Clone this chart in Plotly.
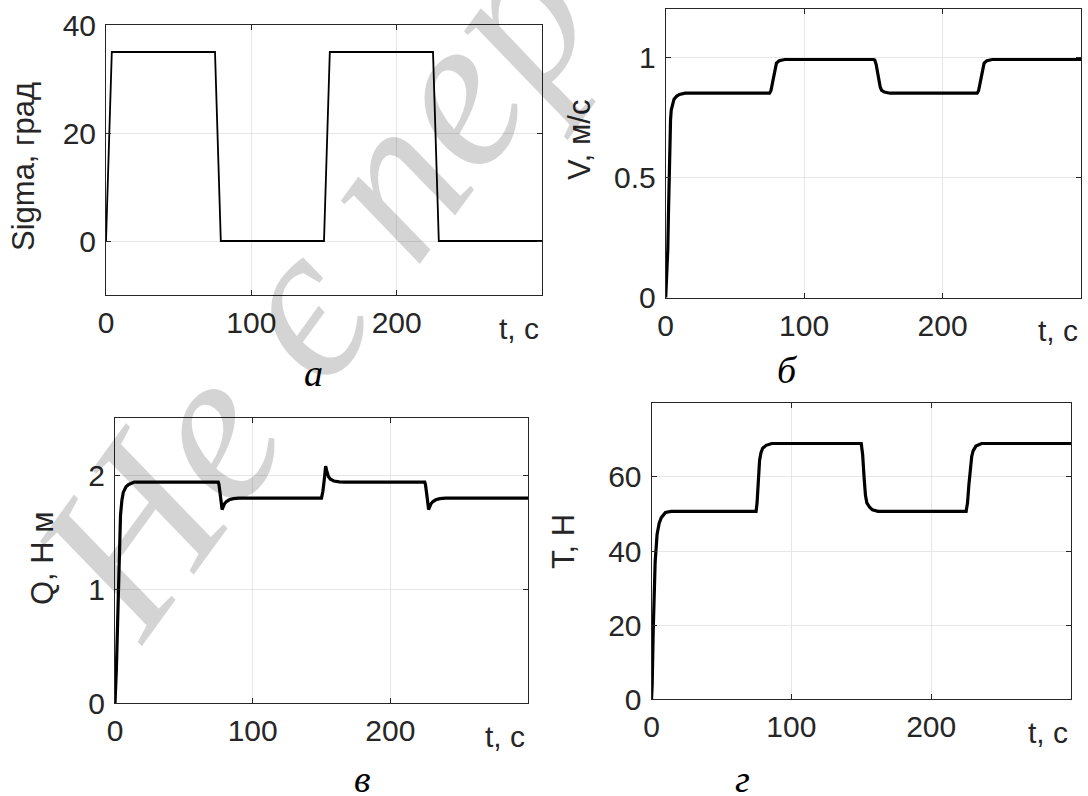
import plotly.graph_objects as go

# ---------------- data ----------------
t_sigma = [0, 4, 75, 79, 150, 154, 225, 229, 300]
sigma = [0, 35, 35, 0, 0, 35, 35, 0, 0]

t_v = [0, 1, 1.5, 2, 2.5, 3, 3.5, 4, 5, 6, 8, 10, 14,
       75, 76, 77, 78, 79, 80, 82, 86,
       150, 151, 152, 153, 154, 155, 156, 158, 162,
       225, 226, 227, 228, 229, 230, 232, 236, 300]
v = [0, 0.10, 0.20, 0.35, 0.50, 0.66, 0.74, 0.78, 0.81, 0.825, 0.838, 0.845, 0.85,
     0.85, 0.86, 0.89, 0.93, 0.96, 0.975, 0.985, 0.99,
     0.99, 0.988, 0.97, 0.94, 0.90, 0.875, 0.862, 0.855, 0.85,
     0.85, 0.86, 0.89, 0.93, 0.96, 0.975, 0.985, 0.99, 0.99]

t_q = [0, 0.5, 1, 2, 3, 4, 5, 6, 8, 10, 14,
       75, 75.5, 76.5, 77.3, 77.8, 78.5, 79.5, 81, 83, 86, 90,
       150, 151, 152, 153, 153.8, 155, 156.5, 159, 163, 167,
       225, 225.5, 226.5, 227.3, 227.8, 228.5, 229.5, 231, 233, 236, 240, 300]
q = [0, 0.10, 0.30, 0.75, 1.35, 1.65, 1.78, 1.85, 1.90, 1.92, 1.94,
     1.94, 1.92, 1.83, 1.74, 1.70, 1.72, 1.75, 1.77, 1.785, 1.795, 1.80,
     1.80, 1.86, 1.96, 2.08, 2.04, 1.99, 1.965, 1.95, 1.942, 1.94,
     1.94, 1.92, 1.83, 1.74, 1.70, 1.72, 1.75, 1.77, 1.785, 1.795, 1.80, 1.80]

t_T = [0, 0.5, 1.2, 2, 2.6, 4, 5.5, 7, 10, 14,
       74.8, 75.5, 76.5, 77.3, 78.3, 79.5, 82, 86,
       150, 151, 152, 153, 154, 156, 158, 162,
       225, 226, 227, 228, 229, 230, 232, 236, 300]
T = [0, 4, 18, 29, 37, 44.5, 47.5, 49, 50.4, 50.7,
     50.7, 53, 60, 64.5, 66.5, 67.7, 68.5, 69,
     69, 66, 60, 55, 53, 51.8, 51.1, 50.7,
     50.7, 53, 58, 62.5, 65.5, 67, 68.3, 69, 69]

x_ticks = [0, 100, 200]
x_ticklabels = ["0", "100", "200"]
x_end_label = "t, c"

y_titles = ["Sigma, град", "V, м/с", "Q, Н м", "T, Н"]
panel_letters = ["а", "б", "в", "г"]
watermark = "Не є перевірено"

# ---------------- layout geometry ----------------
W, H = 1088, 796
def fx(p): return p / W
def fy(p): return 1 - p / H

panels = [
    dict(x=(106, 542), y=(25, 295), yr=[-10, 40], yt=[0, 20, 40], ytt=["0", "20", "40"],
         data=(t_sigma, sigma), lw=1.8, title_pos=(23, 167), letter_pos=(313, 373)),
    dict(x=(665.7, 1081), y=(9, 297.7), yr=[0, 1.2], yt=[0, 0.5, 1], ytt=["0", "0.5", "1"],
         data=(t_v, v), lw=3.2, title_pos=(579, 140), letter_pos=(787, 370)),
    dict(x=(115, 528), y=(418.3, 703.3), yr=[0, 2.5], yt=[0, 1, 2], ytt=["0", "1", "2"],
         data=(t_q, q), lw=3.2, title_pos=(42, 558), letter_pos=(362, 779)),
    dict(x=(651.5, 1071), y=(402.7, 699.3), yr=[0, 80], yt=[0, 20, 40, 60], ytt=["0", "20", "40", "60"],
         data=(t_T, T), lw=3.2, title_pos=(563, 542), letter_pos=(742, 779)),
]

AX = "#262626"
GRID = "#e6e6e6"
TICKFONT = dict(family="Liberation Sans, Arial, sans-serif", size=30, color=AX)

fig = go.Figure()
annotations = []

for i, p in enumerate(panels):
    n = "" if i == 0 else str(i + 1)
    xs, ys = p["data"]
    fig.add_trace(go.Scatter(x=xs, y=ys, mode="lines",
                             line=dict(color="black", width=p["lw"]),
                             xaxis="x" + n, yaxis="y" + n, showlegend=False,
                             hoverinfo="skip"))
    common = dict(showline=True, linecolor=AX, linewidth=1, mirror="allticks",
                  ticks="inside", ticklen=5, tickcolor=AX, tickwidth=1,
                  showgrid=True, gridcolor=GRID, gridwidth=1, zeroline=False,
                  tickfont=TICKFONT, automargin=False)
    fig.update_layout(**{
        "xaxis" + n: dict(domain=[fx(p["x"][0]), fx(p["x"][1])], range=[0, 300],
                          tickvals=x_ticks, ticktext=x_ticklabels,
                          anchor="y" + n, ticklabelstandoff=1, **common),
        "yaxis" + n: dict(domain=[fy(p["y"][1]), fy(p["y"][0])], range=p["yr"],
                          tickvals=p["yt"], ticktext=p["ytt"],
                          anchor="x" + n, ticklabelstandoff=3, **common),
    })
    annotations.append(dict(text=y_titles[i], xref="paper", yref="paper",
                            x=fx(p["title_pos"][0]), y=fy(p["title_pos"][1]),
                            xanchor="center", yanchor="middle", textangle=-90,
                            showarrow=False,
                            font=dict(family="Liberation Sans, Arial, sans-serif", size=31, color=AX)))
    annotations.append(dict(text=x_end_label, xref="paper", yref="paper",
                            x=fx(p["x"][1] - 1), y=fy(p["y"][1] + 33),
                            xanchor="right", yanchor="middle", showarrow=False,
                            font=dict(family="Liberation Sans, Arial, sans-serif", size=30, color=AX)))
    annotations.append(dict(text=panel_letters[i], xref="paper", yref="paper",
                            x=fx(p["letter_pos"][0]), y=fy(p["letter_pos"][1]),
                            xanchor="center", yanchor="middle", showarrow=False,
                            font=dict(family="Liberation Serif, Times New Roman, serif",
                                      size=38, color="black", style="italic")))

annotations.append(dict(text=watermark, xref="paper", yref="paper",
                        x=fx(512), y=fy(11), xanchor="center", yanchor="middle",
                        textangle=-54, showarrow=False,
                        font=dict(family="Liberation Serif, Times New Roman, serif",
                                  size=220, style="italic", color="rgba(0,0,0,0.17)")))

fig.update_layout(width=W, height=H,
                  margin=dict(l=0, r=0, t=0, b=0, pad=0, autoexpand=False),
                  paper_bgcolor="white", plot_bgcolor="white",
                  annotations=annotations, showlegend=False)

fig.write_html("out.html", config={"displayModeBar": False},
               post_script="document.body.style.margin='0';document.body.style.padding='0';")
